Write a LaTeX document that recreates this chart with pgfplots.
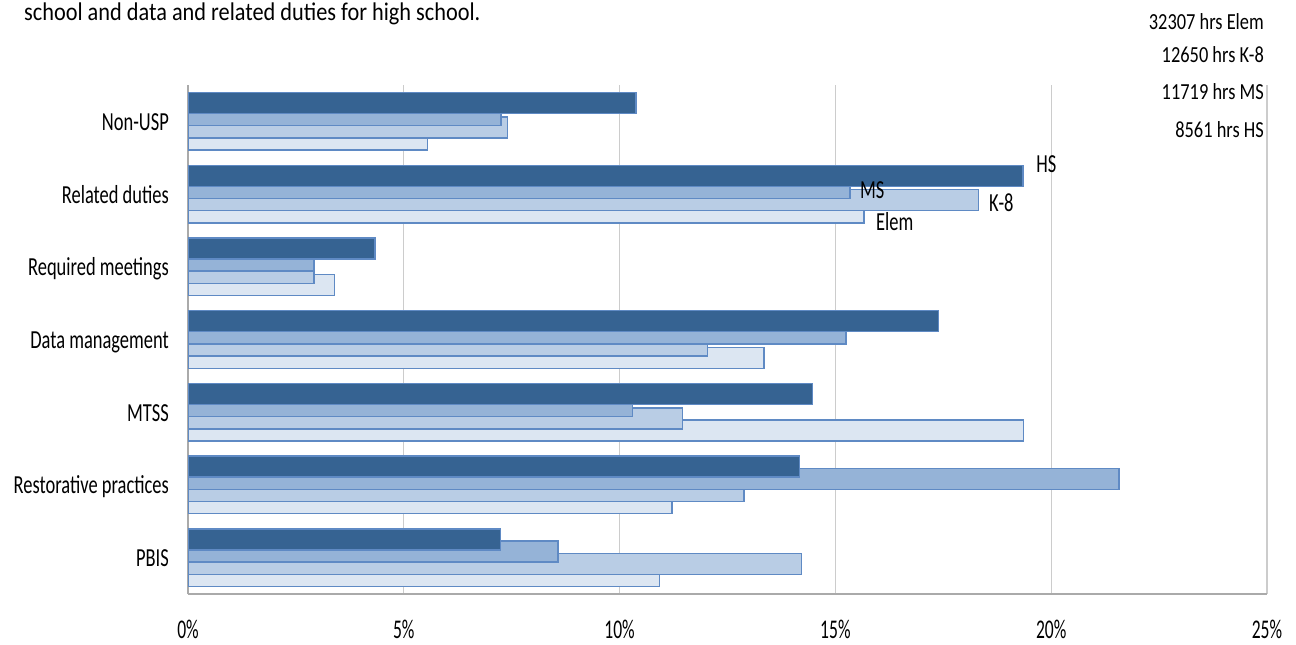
\documentclass[border=0pt]{standalone}
\usepackage{pgfplots}
\usepackage{pgfplotstable}
\pgfplotsset{compat=1.18}
\usepackage{fontspec}
\setmainfont{Carlito}
\newfontfamily\lblfont[FakeStretch=0.71]{Carlito}
\newfontfamily\tickfont[FakeStretch=0.65]{Carlito}
\newfontfamily\notefont[FakeStretch=0.8]{Carlito}
\newfontfamily\titlefont[FakeStretch=0.875]{Carlito}

\definecolor{hsc}{RGB}{54,99,146}
\definecolor{msc}{RGB}{149,179,215}
\definecolor{kc}{RGB}{185,205,229}
\definecolor{elc}{RGB}{220,230,242}
\definecolor{edge}{RGB}{95,138,196}
\definecolor{gridc}{RGB}{204,204,204}
\definecolor{axc}{RGB}{170,170,170}

% share of hours (%) by activity; y = category index, PBIS at the bottom
\pgfplotstableread{
y elem k8 ms hs
0 10.92 14.21 8.57 7.24
1 11.21 12.88 21.57 14.17
2 19.36 11.46 10.30 14.47
3 13.35 12.04 15.25 17.39
4 3.39 2.92 2.92 4.33
5 15.66 18.32 15.34 19.35
6 5.55 7.40 7.25 10.38
}\datatable

\begin{document}
\begin{tikzpicture}
\path[use as bounding box] (0,0) rectangle (1296bp,645bp);

\node[anchor=base west, inner sep=0pt, font=\titlefont\fontsize{25.5bp}{29bp}\selectfont]
  at (24bp,624bp) {school and data and related duties for high school.};

\begin{scope}[every node/.style={anchor=base east, inner sep=0pt, font=\notefont\fontsize{23bp}{27bp}\selectfont}]
\node at (1264bp,615bp) {32307 hrs Elem};
\node at (1264bp,582bp) {12650 hrs K-8};
\node at (1264bp,545bp) {11719 hrs MS};
\node at (1264bp,507bp) {8561 hrs HS};
\end{scope}

\begin{axis}[
  at={(188bp,51bp)}, anchor=south west,
  scale only axis, width=1079bp, height=509bp,
  xmin=0, xmax=25, ymin=-0.5, ymax=6.5,
  enlargelimits=false,
  xtick={0,5,10,15,20,25},
  xticklabels={0\%,5\%,10\%,15\%,20\%,25\%},
  ytick={0,1,2,3,4,5,6},
  yticklabels={PBIS,Restorative practices,MTSS,Data management,Required meetings,Related duties,Non-USP},
  major tick length=0pt,
  xmajorgrids, grid style={draw=gridc, line width=1.2bp},
  axis x line*=bottom, axis y line*=left,
  axis line style={draw=axc, line width=1.6bp, -},
  xticklabel style={anchor=base, inner sep=0pt, yshift=-44bp, font=\tickfont\fontsize{27bp}{30bp}\selectfont},
  yticklabel style={anchor=base east, inner sep=0pt, xshift=-19bp, yshift=-9bp, font=\lblfont\fontsize{26bp}{30bp}\selectfont},
  every axis plot/.append style={xbar, bar width=0.289, draw=edge, line width=1.4bp},
]
\addplot[fill=elc, bar shift=-0.252] table[x=elem, y=y] {\datatable};
\addplot[fill=kc,  bar shift=-0.084] table[x=k8,   y=y] {\datatable};
\addplot[fill=msc, bar shift=0.084]  table[x=ms,   y=y] {\datatable};
\addplot[fill=hsc, bar shift=0.252]  table[x=hs,   y=y] {\datatable};

\begin{scope}[every node/.style={anchor=base west, inner sep=0pt, font=\lblfont\fontsize{26bp}{30bp}\selectfont}]
\node at (axis cs:19.65,5.303) {HS};
\node at (axis cs:15.57,4.945) {MS};
\node at (axis cs:18.56,4.766) {K-8};
\node at (axis cs:15.94,4.505) {Elem};
\end{scope}
\end{axis}
\end{tikzpicture}
\end{document}
